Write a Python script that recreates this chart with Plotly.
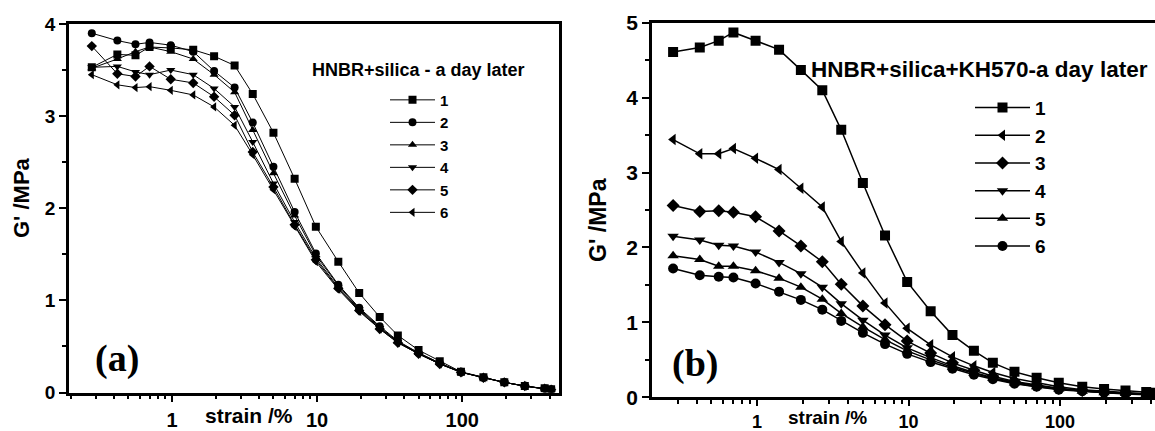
import plotly.graph_objects as go

# ---------------- data ----------------
strain = [0.28, 0.42, 0.56, 0.7, 0.98, 1.4, 1.95, 2.7, 3.6, 5.0, 7.0, 9.8,
          14, 19.5, 27, 36, 50, 70, 98, 140, 195, 270, 370, 410]

# panel (a): HNBR+silica - a day later
a1 = [3.53, 3.67, 3.66, 3.75, 3.74, 3.72, 3.65, 3.55, 3.24, 2.82, 2.32, 1.80,
      1.42, 1.08, 0.82, 0.62, 0.46, 0.34, 0.225, 0.165, 0.11, 0.07, 0.045, 0.035]
a2 = [3.90, 3.82, 3.78, 3.80, 3.77, 3.70, 3.49, 3.31, 2.93, 2.45, 1.96, 1.51,
      1.17, 0.92, 0.72, 0.56, 0.43, 0.32, 0.22, 0.16, 0.11, 0.07, 0.04, 0.03]
a3 = [3.52, 3.62, 3.70, 3.75, 3.70, 3.62, 3.45, 3.26, 2.85, 2.38, 1.92, 1.49,
      1.16, 0.91, 0.71, 0.55, 0.43, 0.32, 0.22, 0.16, 0.11, 0.07, 0.04, 0.03]
a4 = [3.53, 3.54, 3.48, 3.45, 3.50, 3.45, 3.30, 3.10, 2.72, 2.27, 1.85, 1.46,
      1.14, 0.90, 0.70, 0.55, 0.42, 0.31, 0.22, 0.16, 0.11, 0.07, 0.04, 0.03]
a5 = [3.76, 3.46, 3.43, 3.54, 3.40, 3.36, 3.21, 3.01, 2.61, 2.23, 1.82, 1.44,
      1.13, 0.89, 0.69, 0.54, 0.42, 0.31, 0.22, 0.16, 0.11, 0.07, 0.04, 0.03]
a6 = [3.45, 3.34, 3.31, 3.32, 3.28, 3.23, 3.10, 2.90, 2.58, 2.20, 1.80, 1.42,
      1.12, 0.88, 0.69, 0.54, 0.42, 0.31, 0.22, 0.16, 0.11, 0.07, 0.04, 0.03]

# panel (b): HNBR+silica+KH570-a day later
b1 = [4.61, 4.67, 4.76, 4.87, 4.76, 4.64, 4.37, 4.10, 3.57, 2.86, 2.16, 1.54,
      1.15, 0.83, 0.62, 0.46, 0.34, 0.26, 0.195, 0.14, 0.11, 0.09, 0.07, 0.06]
b2 = [3.44, 3.25, 3.25, 3.32, 3.19, 3.04, 2.79, 2.54, 2.08, 1.66, 1.26, 0.92,
      0.70, 0.54, 0.42, 0.33, 0.25, 0.19, 0.14, 0.10, 0.08, 0.06, 0.05, 0.04]
b3 = [2.56, 2.48, 2.49, 2.47, 2.41, 2.22, 2.02, 1.81, 1.51, 1.22, 0.97, 0.75,
      0.59, 0.46, 0.36, 0.28, 0.21, 0.16, 0.12, 0.09, 0.07, 0.055, 0.045, 0.04]
b4 = [2.15, 2.10, 2.03, 2.02, 1.94, 1.80, 1.65, 1.47, 1.25, 1.03, 0.83, 0.66,
      0.53, 0.42, 0.33, 0.26, 0.20, 0.15, 0.11, 0.085, 0.065, 0.05, 0.04, 0.035]
b5 = [1.89, 1.84, 1.75, 1.75, 1.69, 1.59, 1.47, 1.31, 1.12, 0.94, 0.77, 0.62,
      0.50, 0.40, 0.32, 0.25, 0.19, 0.14, 0.11, 0.08, 0.06, 0.05, 0.04, 0.035]
b6 = [1.72, 1.63, 1.61, 1.60, 1.52, 1.41, 1.30, 1.17, 1.02, 0.86, 0.71, 0.58,
      0.47, 0.38, 0.30, 0.24, 0.18, 0.14, 0.10, 0.08, 0.06, 0.045, 0.035, 0.03]

labels = ["1", "2", "3", "4", "5", "6"]
series_a = [a1, a2, a3, a4, a5, a6]
series_b = [b1, b2, b3, b4, b5, b6]
symbols_a = ["square", "circle", "triangle-up", "triangle-down", "diamond", "triangle-left"]
symbols_b = ["square", "triangle-left", "diamond", "triangle-down", "triangle-up", "circle"]

title_a = "HNBR+silica - a day later"
title_b = "HNBR+silica+KH570-a day later"

# ---------------- figure ----------------
W, H = 1155, 431
FONT = "Liberation Sans"
fig = go.Figure()

for lab, ys, sym in zip(labels, series_a, symbols_a):
    fig.add_trace(go.Scatter(
        x=strain, y=ys, name=lab, mode="lines+markers",
        line=dict(color="black", width=1),
        marker=dict(symbol=sym, size=8, color="black"),
        xaxis="x", yaxis="y", legend="legend"))

for lab, ys, sym in zip(labels, series_b, symbols_b):
    fig.add_trace(go.Scatter(
        x=strain, y=ys, name=lab, mode="lines+markers",
        line=dict(color="black", width=1.5),
        marker=dict(symbol=sym, size=10, color="black"),
        xaxis="x2", yaxis="y2", legend="legend2"))

def px_x(p):
    return p / W

def px_y(p):
    return 1 - p / H

def bold(s):
    return dict(family=FONT, size=s, color="black", weight="bold")

def x_axis(fs, standoff, tlen):
    return dict(type="log", dtick=1, ticks="outside", ticklen=tlen, tickwidth=2,
                tickcolor="black", showline=True, linecolor="black", linewidth=2.5,
                showgrid=False, zeroline=False, tickfont=bold(fs), automargin=False,
                ticklabelstandoff=standoff,
                minor=dict(dtick="D1", ticks="outside", ticklen=4, tickwidth=2,
                           tickcolor="black", showgrid=False))

def y_axis(fs):
    return dict(dtick=1, ticks="outside", ticklen=7, tickwidth=2, tickcolor="black",
                showline=True, linecolor="black", linewidth=2.5, showgrid=False,
                zeroline=False, tickfont=bold(fs), automargin=False,
                minor=dict(dtick=0.5, ticks="outside", ticklen=4, tickwidth=2,
                           tickcolor="black", showgrid=False))

fig.update_layout(
    width=W, height=H,
    margin=dict(l=0, r=0, t=0, b=0, autoexpand=False),
    paper_bgcolor="white", plot_bgcolor="white",
    xaxis=dict(x_axis(20, 1, 7), domain=[px_x(69), px_x(559)], range=[-0.71, 2.667],
               anchor="y", mirror=True),
    yaxis=dict(y_axis(19), domain=[px_y(392.5), px_y(24)], range=[0, 4],
               anchor="x", mirror=True),
    xaxis2=dict(x_axis(18, 0, 6), domain=[px_x(652), 1.0], range=[-0.692, 2.626],
                anchor="y2", mirror=True),
    yaxis2=dict(y_axis(21), domain=[px_y(397.3), px_y(22.7)], range=[0, 5],
                anchor="x2", mirror=False),
    legend=dict(x=px_x(385), y=px_y(83.6), xanchor="left", yanchor="top",
                font=bold(15), itemwidth=45,
                bgcolor="rgba(0,0,0,0)", borderwidth=0, tracegroupgap=0),
    legend2=dict(x=px_x(970), y=px_y(88.7), xanchor="left", yanchor="top",
                 font=bold(19), itemwidth=55,
                 bgcolor="rgba(0,0,0,0)", borderwidth=0, tracegroupgap=0),
    showlegend=True,
)

annotations = [
    dict(text=title_a, x=px_x(418.5), y=px_y(70), font=bold(18)),
    dict(text=title_b, x=px_x(979), y=px_y(70), font=bold(22.5)),
    dict(text="G' /MPa", x=px_x(22), y=px_y(198), textangle=-90, font=bold(22)),
    dict(text="G' /MPa", x=px_x(598), y=px_y(220), textangle=-90, font=bold(23)),
    dict(text="strain /%", x=px_x(249), y=px_y(415), font=bold(21)),
    dict(text="strain /%", x=px_x(827), y=px_y(417), font=bold(19)),
    dict(text="(a)", x=px_x(117), y=px_y(358),
         font=dict(family="Liberation Serif", size=38, color="black", weight="bold")),
    dict(text="(b)", x=px_x(695), y=px_y(363),
         font=dict(family="Liberation Serif", size=38, color="black", weight="bold")),
]
for a in annotations:
    a.update(xref="paper", yref="paper", showarrow=False, xanchor="center", yanchor="middle")
fig.update_layout(annotations=annotations)

fig.write_html("out.html")
